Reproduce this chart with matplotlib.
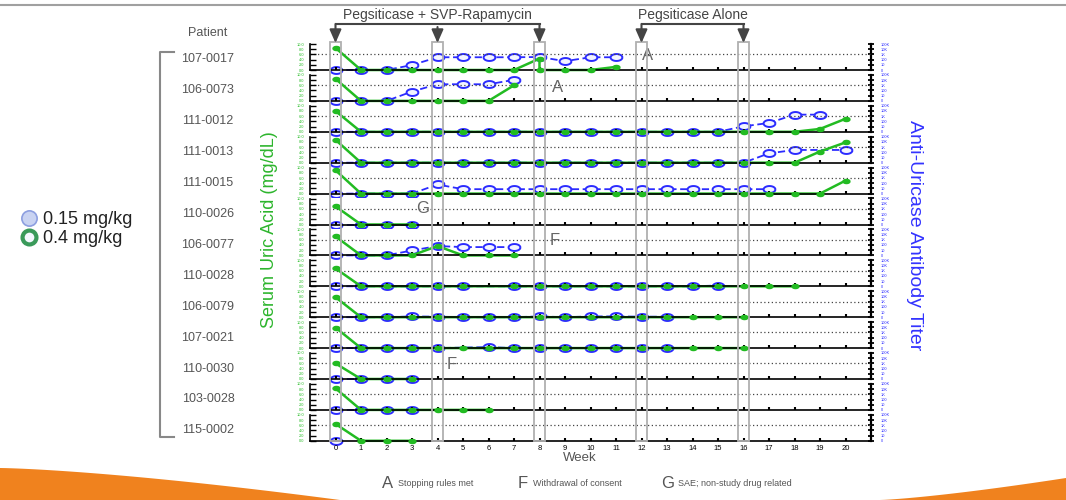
import numpy as np
import matplotlib.pyplot as plt
from matplotlib.lines import Line2D
from matplotlib.patches import Rectangle, Polygon
from matplotlib.path import Path

plt.rcParams['font.family'] = ['Liberation Sans', 'DejaVu Sans']

n = np.nan

patients = ['107-0017', '106-0073', '111-0012', '111-0013', '111-0015', '110-0026', '106-0077',
            '110-0028', '106-0079', '107-0021', '110-0030', '103-0028', '115-0002']

# serum uric acid (mg/dL), one value per week starting at week 0
ua_107_0017_wk = [0, 1, 2, 3, 4, 5, 6, 7, 8, 8, 9, 10, 11]
ua_107_0017 = [8.5, 0, 0, 0, 0, 0, 0, 0, 4.4, 0, 0, 0, 1.2]
ua_106_0073 = [8.5, 0, 0, 0, 0, 0, 0, 6.0]
ua_111_0012 = [8.0, 0, 0, 0, 0, 0, 0, 0, 0, 0, 0, 0, 0, 0, 0, 0, 0, 0, 0, 1.1, 5.0]
ua_111_0013 = [8.8, 0, 0, 0, 0, 0, 0, 0, 0, 0, 0, 0, 0, 0, 0, 0, 0, 0, 0, 4.3, 7.8]
ua_111_0015 = [9.0, 0, 0, 0, 0, 0, 0, 0, 0, 0, 0, 0, 0, 0, 0, 0, 0, 0, 0, 0, 5.0]
ua_110_0026 = [7.0, 0, 0, 0]
ua_106_0077 = [7.3, 0, 0, 0, 3.6, 0, 0, 0]
ua_110_0028 = [6.9, 0, 0, 0, 0, 0, n, 0, 0, 0, 0, 0, 0, 0, 0, 0, 0, 0, 0]
ua_106_0079 = [7.7, 0, 0, 0, 0, 0, 0, 0, 0, 0, 0, 0, 0, 0, 0, 0, 0]
ua_107_0021 = [7.9, 0, 0, 0, 0, 0, 0, 0, 0, 0, 0, 0, 0, 0, 0, 0, 0]
ua_110_0030 = [6.0, 0, 0, 0]
ua_103_0028 = [8.3, 0, 0, 0, 0, 0, 0]
ua_115_0002 = [6.5, 0, 0, 0]

# anti-uricase antibody titer (relative units), one value per week starting at week 0
ab_107_0017 = [0, 0, 0, 1.9, 4.9, 4.9, 4.9, 4.9, 5.0, 3.4, 4.9, 4.9]
ab_106_0073 = [0, 0, 0, 3.6, 6.4, 6.4, 6.4, 8.1]
ab_111_0012 = [0, 0, 0, 0, 0, 0, 0, 0, 0, 0, 0, 0, 0, 0, 0, 0, 2.1, 3.4, 6.6, 6.6]
ab_111_0013 = [0, 0, 0, 0, 0, 0, 0, 0, 0, 0, 0, 0, 0, 0, 0, 0, 0, 3.6, 4.9, n, 4.9]
ab_111_0015 = [0, 0, 0, 0, 3.5, 1.7, 1.7, 1.7, 1.7, 1.7, 1.7, 1.7, 1.7, 1.7, 1.7, 1.7, 1.7, 1.7]
ab_110_0026 = [0, 0, 0, 0]
ab_106_0077 = [0, 0, 0, 1.9, 3.6, 3.2, 3.2, 3.2]
ab_110_0028 = [0, 0, 0, 0, 0, 0, n, 0, 0, 0, 0, 0, 0, 0, 0, 0.3]
ab_106_0079 = [0, 0, 0, 0.3, 0.2, 0, 0, 0, 0.3, 0, 0.3, 0.3, 0.2, 0.2]
ab_107_0021 = [0, 0, 0, 0, 0, n, 0.4, 0, 0, 0, 0, 0, 0, 0]
ab_110_0030 = [0, 0, 0, 0]
ab_103_0028 = [0, 0, 0, 0]
ab_115_0002 = [0]

uric_acid = [ua_107_0017, ua_106_0073, ua_111_0012, ua_111_0013, ua_111_0015, ua_110_0026, ua_106_0077,
             ua_110_0028, ua_106_0079, ua_107_0021, ua_110_0030, ua_103_0028, ua_115_0002]
titer = [ab_107_0017, ab_106_0073, ab_111_0012, ab_111_0013, ab_111_0015, ab_110_0026, ab_106_0077,
         ab_110_0028, ab_106_0079, ab_107_0021, ab_110_0030, ab_103_0028, ab_115_0002]

# study events
event_patient = ['107-0017', '106-0073', '110-0026', '106-0077', '110-0030']
event_week = [12.25, 8.7, 3.4, 8.6, 4.55]
event_level = [5.4, 5.0, 6.3, 5.9, 5.4]
event_code = ['A', 'A', 'G', 'F', 'F']
event_notes = [('A', 'Stopping rules met'), ('F', 'Withdrawal of consent'), ('G', 'SAE; non-study drug related')]

combo_weeks = [0, 4, 8]
alone_weeks = [12, 16]

GREEN = '#22bb22'
BLUE = '#2b2bff'
GRAY = '#555555'

t = np.linspace(0, 2 * np.pi, 41)
oval = Path(np.column_stack([1.7 * np.cos(t), np.sin(t)]))

fig = plt.figure(figsize=(10.66, 5.0), dpi=100)
FW, FH = 1066, 500
L, R = 310, 871
top0, step, ph = 44, 30.9, 26

page = fig.add_axes([0, 0, 1, 1], zorder=-1)
page.set_xlim(0, FW)
page.set_ylim(FH, 0)
page.axis('off')

for i, pid in enumerate(patients):
    top = top0 + i * step
    ax = fig.add_axes([L / FW, 1 - (top + ph) / FH, (R - L) / FW, ph / FH])
    tw = ax.twinx()
    ax.set_zorder(tw.get_zorder() + 1)
    ax.patch.set_visible(False)
    tw.patch.set_visible(True)
    tw.patch.set_facecolor('white')

    for a in (ax, tw):
        a.set_xlim(-1, 21)
        a.set_ylim(0, 10)

    ax.axhline(6, color='#444444', ls=(0, (1, 2)), lw=0.9, zorder=1)

    ua = np.array(uric_acid[i], dtype=float)
    wk = np.array(ua_107_0017_wk if pid == '107-0017' else range(len(ua)))
    m = ~np.isnan(ua)
    ax.plot(wk[m], ua[m], color=GREEN, lw=1.8, zorder=2, clip_on=False)

    ab = np.array(titer[i], dtype=float)
    wk2 = np.arange(len(ab))
    m2 = ~np.isnan(ab)
    tw.plot(wk2[m2], ab[m2], color=BLUE, ls=(0, (4, 2)), lw=1.3, marker=oval, ms=8.5,
            mfc='#f2f4ff', mec=BLUE, mew=1.4, zorder=3, clip_on=False)
    ax.plot(wk[m], ua[m], ls='', marker=oval, ms=5, color=GREEN, zorder=4, clip_on=False)

    for k in range(len(event_patient)):
        if event_patient[k] == pid:
            ax.text(event_week[k], event_level[k], event_code[k], fontsize=12, color='#666666',
                    ha='center', va='center', zorder=5)

    ax.spines['top'].set_visible(False)
    ax.spines['right'].set_visible(False)
    for s in ('left', 'bottom'):
        ax.spines[s].set_linewidth(1.2)
    for s in ('top', 'left', 'bottom'):
        tw.spines[s].set_visible(False)
    tw.spines['right'].set_linewidth(1.6)

    ax.set_xticks(range(21))
    ax.tick_params(axis='x', direction='in', length=2.5, width=1.5, colors='black',
                   labelsize=5.5, pad=3, labelbottom=(i == len(patients) - 1))
    ax.set_yticks([0, 2, 4, 6, 8, 10])
    ax.set_yticklabels(['0.0', '2.0', '4.0', '6.0', '8.0', '10.0'])
    ax.tick_params(axis='y', direction='in', length=4, width=1, labelsize=2.8,
                   labelcolor=GREEN, pad=4)
    tw.set_yticks([0, 2, 4, 6, 8, 10])
    tw.set_yticklabels(['0', '10', '100', '1K', '10K', '100K'])
    tw.tick_params(axis='y', direction='inout', length=4, width=1.3, labelsize=2.8,
                   labelcolor=BLUE, pad=5)

    page.text(208, top + 15.5, pid, fontsize=9, color=GRAY, ha='center', va='center')

page.text(208, 33, 'Patient', fontsize=9, color=GRAY, ha='center', va='center')
page.plot([174, 160, 160, 174], [52, 52, 437, 437], color='#888888', lw=1.5)
page.plot([0, FW], [5, 5], color='#a0a0a0', lw=1.5)

# orange swooshes at the slide corners
xs = np.linspace(0, 340, 60)
page.add_patch(Polygon(np.vstack([np.column_stack([xs, 468 + 32 * (xs / 340) ** 1.4]), [[0, 500]]]),
                       closed=True, color='#f0821e', lw=0))
xs = np.linspace(880, FW, 40)
page.add_patch(Polygon(np.vstack([np.column_stack([xs, 500 - 22 * ((xs - 880) / (FW - 880)) ** 1.3]), [[FW, 500]]]),
                       closed=True, color='#f0821e', lw=0))

fig.text(270 / FW, 1 - 230 / FH, 'Serum Uric Acid (mg/dL)', color='#2db52d', fontsize=13,
         rotation=90, ha='center', va='center')
fig.text(915 / FW, 1 - 235 / FH, 'Anti-Uricase Antibody Titer', color='#3333ff', fontsize=14,
         rotation=270, ha='center', va='center')
fig.text(580 / FW, 1 - 458 / FH, 'Week', color=GRAY, fontsize=9.5, ha='center', va='center')

# dosing markers: boxes, arrows and brackets
ov = fig.add_axes([L / FW, 0, (R - L) / FW, 1], zorder=10)
ov.set_xlim(-1, 21)
ov.set_ylim(FH, 0)
ov.axis('off')
arrow = dict(arrowstyle='-|>,head_length=0.5,head_width=0.22', color='#444444', lw=1.5,
             mutation_scale=16, shrinkA=0, shrinkB=0)
for group, label in ((combo_weeks, 'Pegsiticase + SVP-Rapamycin'), (alone_weeks, 'Pegsiticase Alone')):
    ov.plot([group[0], group[-1]], [24, 24], color='#444444', lw=1.5)
    for w in group:
        ov.add_patch(Rectangle((w - 0.21, 42), 0.42, 399, fill=False, ec='#b0b0b0', lw=1.3))
        start = 24 if w in (group[0], group[-1]) else 27
        ov.annotate('', xy=(w, 43), xytext=(w, start), arrowprops=arrow)
    ov.text(np.mean(group), 15.5, label, fontsize=10, color='#444444', ha='center', va='center')

# footnote
for (code, text), x in zip(event_notes, [388, 523, 668]):
    page.text(x, 483, code, fontsize=12, color=GRAY, ha='center', va='center')
    page.text(x + 10, 483, text, fontsize=6.5, color=GRAY, ha='left', va='center')

handles = [Line2D([], [], ls='', marker='o', ms=11, mfc='#c9d3f2', mec='#8d9fe0', mew=1.2),
           Line2D([], [], ls='', marker='o', ms=10, mfc='#f4f8ff', mec='#3a9a5a', mew=3)]
fig.legend(handles, ['0.15 mg/kg', '0.4 mg/kg'], loc='center left', bbox_to_anchor=(20 / FW, 1 - 229 / FH),
           frameon=False, fontsize=13, handletextpad=0.3, labelspacing=0.1, handlelength=1.0,
           borderpad=0, borderaxespad=0, labelcolor='#222222')

fig.savefig('out.png', dpi=100)
